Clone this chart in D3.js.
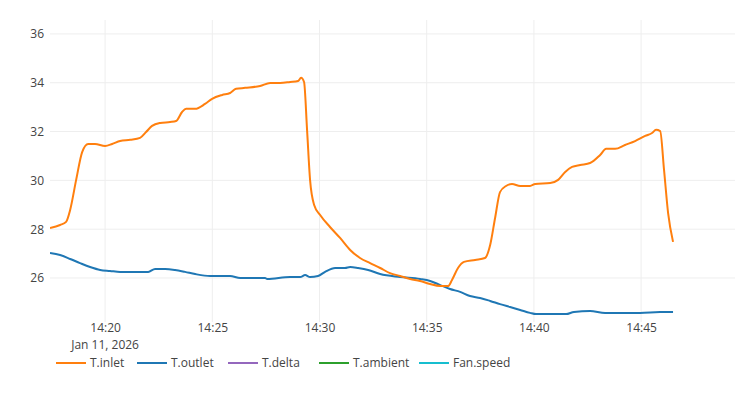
<!DOCTYPE html>
<html><head><meta charset="utf-8">
<script src="https://cdn.jsdelivr.net/npm/d3@7"></script>
<style>body{margin:0;background:#fff}text{font-family:"Open Sans",sans-serif}</style>
</head><body><svg id="c" width="740" height="400"></svg>
<script>
// minutes after 14:00 on Jan 11 2026
const inletMin=[17.43,17.90,18.18,18.37,18.65,18.93,19.21,19.53,20.00,20.33,20.70,21.17,21.63,21.91,22.19,22.57,23.03,23.31,23.59,23.78,24.20,24.66,24.99,25.46,25.83,26.11,26.53,27.23,27.70,28.16,28.63,29.00,29.14,29.28,29.42,29.56,29.75,30.03,30.49,30.96,31.43,31.89,32.36,32.83,33.29,33.76,34.23,34.69,35.16,35.63,36.00,36.18,36.46,36.74,37.26,37.72,37.96,38.19,38.42,38.70,38.98,39.36,39.82,40.06,40.76,41.13,41.46,41.78,42.16,42.62,43.09,43.37,43.79,44.25,44.72,45.19,45.51,45.70,45.89,46.07,46.26,46.49];
const inletVal=[28.05,28.17,28.30,28.79,30.02,31.16,31.49,31.49,31.41,31.49,31.61,31.66,31.74,31.98,32.23,32.35,32.39,32.43,32.80,32.93,32.93,33.13,33.34,33.50,33.58,33.75,33.79,33.87,33.99,33.99,34.03,34.07,34.20,34.03,32.07,30.02,28.99,28.58,28.09,27.64,27.15,26.82,26.61,26.41,26.20,26.08,25.96,25.88,25.75,25.67,25.67,25.92,26.41,26.66,26.74,26.82,27.35,28.46,29.52,29.77,29.85,29.77,29.77,29.85,29.89,30.02,30.34,30.55,30.63,30.71,31.04,31.29,31.29,31.45,31.61,31.82,31.94,32.07,32.02,30.43,28.66,27.48];
const outletMin=[17.43,17.90,18.37,18.83,19.30,19.77,20.23,20.70,21.63,22.01,22.33,22.80,23.26,23.73,24.20,24.90,25.83,26.30,27.46,27.56,28.63,29.10,29.33,29.56,29.93,30.26,30.73,31.19,31.43,31.80,32.27,32.83,33.76,34.69,35.16,35.63,36.09,36.56,37.02,37.49,37.96,38.42,38.89,39.36,39.82,40.10,40.76,41.50,41.87,42.62,43.32,44.02,44.95,45.89,46.49];
const outletVal=[27.02,26.94,26.78,26.61,26.45,26.33,26.29,26.25,26.25,26.25,26.37,26.37,26.33,26.25,26.16,26.08,26.08,26.00,26.00,25.96,26.04,26.04,26.12,26.04,26.08,26.25,26.41,26.41,26.45,26.41,26.33,26.16,26.04,25.96,25.88,25.71,25.55,25.43,25.26,25.18,25.06,24.93,24.81,24.69,24.57,24.52,24.52,24.52,24.61,24.65,24.57,24.57,24.57,24.61,24.61];
const yTicks=[26,28,30,32,34,36];
const seriesNames=["T.inlet","T.outlet","T.delta","T.ambient","Fan.speed"];
const seriesColors=["#ff7f0e","#1f77b4","#9467bd","#2ca02c","#17becf"];

const base=new Date(2026,0,11,14,0,0);
const toDate=m=>new Date(base.getTime()+m*60000);
const svg=d3.select("#c");
const x=d3.scaleTime().domain([toDate(17.43),toDate(49.38)]).range([50,735]);
const y=d3.scaleLinear().domain([24.197,36.57]).range([322,20]);
const ticks=d3.range(20,50,5).map(toDate);
const g=svg.append("g");
g.selectAll(".vg").data(ticks).join("line").attr("x1",d=>x(d)).attr("x2",d=>x(d)).attr("y1",20).attr("y2",322).attr("stroke","#eee");
g.selectAll(".hg").data(yTicks).join("line").attr("x1",50).attr("x2",735).attr("y1",d=>y(d)).attr("y2",d=>y(d)).attr("stroke","#eee");
const xa=svg.append("g").attr("transform","translate(0,322)").call(d3.axisBottom(x).tickValues(ticks).tickFormat(d3.timeFormat("%H:%M")).tickSize(0).tickPadding(1));
xa.select(".domain").remove();
xa.selectAll("text").attr("font-size",12).attr("fill","#444").attr("font-family","Open Sans");
svg.append("text").attr("x",x(ticks[0])).attr("y",349).attr("text-anchor","middle").attr("font-size",12).attr("fill","#444").text("Jan 11, 2026");
const ya=svg.append("g").attr("transform","translate(50,0)").call(d3.axisLeft(y).tickValues(yTicks).tickSize(0).tickPadding(6));
ya.select(".domain").remove();
ya.selectAll("text").attr("font-size",12).attr("fill","#444").attr("font-family","Open Sans");
const line=d3.line().curve(d3.curveMonotoneX).x(d=>x(toDate(d[0]))).y(d=>y(d[1]));
svg.append("defs").append("clipPath").attr("id","cp").append("rect").attr("x",50).attr("y",20).attr("width",685).attr("height",302);
const pg=svg.append("g").attr("clip-path","url(#cp)");
pg.append("path").attr("d",line(d3.zip(outletMin,outletVal))).attr("fill","none").attr("stroke",seriesColors[1]).attr("stroke-width",2);
pg.append("path").attr("d",line(d3.zip(inletMin,inletVal))).attr("fill","none").attr("stroke",seriesColors[0]).attr("stroke-width",2);
const lx=[56,137,228,319,419];
const lg=svg.selectAll(".lg").data(seriesNames).join("g").attr("transform",(d,i)=>`translate(${lx[i]},363)`);
lg.append("line").attr("x1",0).attr("x2",30).attr("stroke",(d,i)=>seriesColors[i]).attr("stroke-width",2);
lg.append("text").attr("x",34).attr("dy","0.35em").attr("font-size",12).attr("fill","#444").text(d=>d);
</script></body></html>
